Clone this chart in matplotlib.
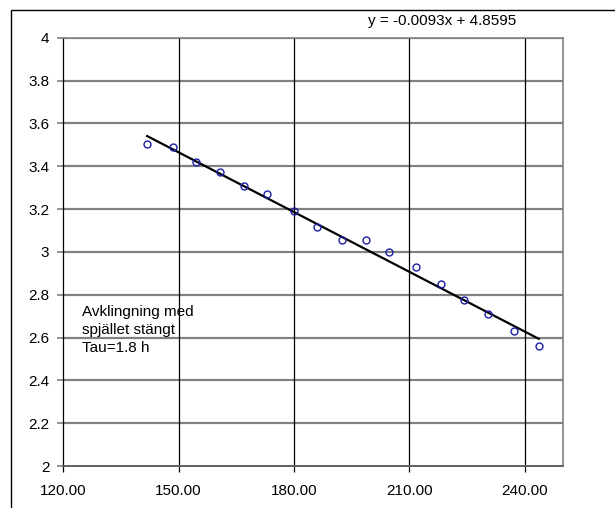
"""Decay plot with linear trendline (Excel style)."""

import matplotlib
matplotlib.use("Agg")
import matplotlib.pyplot as plt
from matplotlib.patches import Rectangle
import numpy as np

plt.rcParams["font.family"] = ["Liberation Sans", "DejaVu Sans"]

# measured points
time_x = [141.8, 148.5, 154.5, 160.8, 167.0, 173.0, 179.9, 185.9, 192.4,
          198.6, 204.6, 211.7, 218.1, 224.3, 230.5, 237.3, 243.6]
log_y = [3.502, 3.491, 3.421, 3.371, 3.309, 3.268, 3.189, 3.118, 3.054,
         3.054, 2.998, 2.928, 2.848, 2.774, 2.708, 2.632, 2.562]

# trendline coefficients shown in the chart
slope = -0.0093
intercept = 4.8595

x_ticks = [120, 150, 180, 210, 240]
y_ticks = [2, 2.2, 2.4, 2.6, 2.8, 3, 3.2, 3.4, 3.6, 3.8, 4]
y_labels = ["2", "2.2", "2.4", "2.6", "2.8", "3", "3.2", "3.4", "3.6", "3.8", "4"]

GRID_H = "#808080"
MARKER_COLOR = "#1c1ca8"

fig = plt.figure(figsize=(6.15, 5.08), dpi=100)
fig.patch.set_facecolor("white")
ax = fig.add_axes([63.3 / 615, 1 - 466 / 508, 500 / 615, (466 - 37.7) / 508])

# outer chart frame (runs off the right and bottom edge)
fig.patches.append(Rectangle((10.5 / 615, -0.2), 1.2, 1.2 - 10 / 508,
                             transform=fig.transFigure, fill=False,
                             edgecolor="black", linewidth=1.0))

for yv in y_ticks[1:]:
    ax.axhline(yv, color=GRID_H, linewidth=1.6, zorder=1)
for xv in x_ticks[1:]:
    ax.axvline(xv, color="black", linewidth=0.9, zorder=1)

xs = np.array([min(time_x), max(time_x)])
ax.plot(xs, slope * xs + intercept, color="black", linewidth=1.6, zorder=2)
ax.plot(time_x, log_y, linestyle="none", marker="o", markersize=5,
        markerfacecolor="none", markeredgecolor=MARKER_COLOR,
        markeredgewidth=1.0, zorder=3)

ax.set_xlim(120, 250)
ax.set_ylim(2, 4)
ax.set_xticks(x_ticks)
ax.set_xticklabels([f"{v:.2f}" for v in x_ticks])
ax.set_yticks(y_ticks)
ax.set_yticklabels(y_labels)
ax.tick_params(axis="x", direction="out", length=4, width=0.9, color="black",
               pad=9, labelsize=11)
ax.tick_params(axis="y", direction="out", length=4, width=1.2, color=GRID_H,
               pad=6, labelsize=11)

ax.spines["left"].set_color("black")
ax.spines["left"].set_linewidth(0.9)
ax.spines["bottom"].set_color("#606060")
ax.spines["bottom"].set_linewidth(1.4)
for side in ("top", "right"):
    ax.spines[side].set_color(GRID_H)
    ax.spines[side].set_linewidth(1.2)

fig.text(442 / 615, 1 - 21 / 508, "y = -0.0093x + 4.8595", ha="center",
         va="center", fontsize=11)
fig.text(82.5 / 615, 1 - 305 / 508, "Avklingning med\nspjället stängt\nTau=1.8 h",
         ha="left", va="top", fontsize=11, linespacing=1.36)

fig.savefig("out.png", dpi=100, facecolor="white")
